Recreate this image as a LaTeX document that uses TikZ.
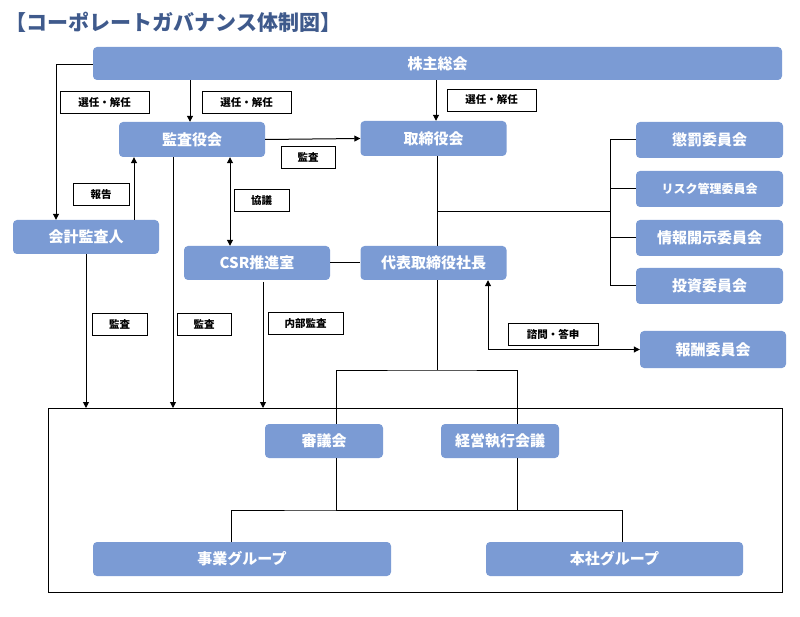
\documentclass[tikz,border=0pt]{standalone}
\usepackage{fontspec}
\setmainfont{Noto Sans CJK JP}
\usetikzlibrary{arrows.meta}
\definecolor{boxc}{HTML}{7B9BD4}
\definecolor{titlec}{HTML}{3F5A8C}
\begin{document}
\begin{tikzpicture}[x=1pt,y=-1pt,
 box/.style={fill=boxc,rounded corners=4pt,text=white,font=\bfseries\fontsize{15}{15}\selectfont,inner sep=0pt,anchor=center},
 lab/.style={draw=black,fill=white,line width=0.8pt,font=\bfseries\fontsize{10.5}{11}\selectfont,inner sep=0pt,minimum height=22pt},
 ln/.style={line width=1pt},
 ar/.style={line width=1pt,-{Triangle[length=6pt,width=6pt]}}]
\useasboundingbox (0,0) rectangle (800,617);
\node[anchor=west,text=titlec,font=\bfseries\fontsize{21}{21}\selectfont] (title) at (2,22) {【コーポレートガバナンス体制図】};
\draw[ln] (48,408) rectangle (782,592);
\node[box,minimum width=689pt,minimum height=33pt] (kabu) at (437.5,63.5) {株主総会};
\node[box,minimum width=146pt,minimum height=35pt] (kansa) at (192,139.5) {監査役会};
\node[box,minimum width=146pt,minimum height=35pt] (tori) at (433.5,138.5) {取締役会};
\node[box,minimum width=146pt,minimum height=34pt] (kaikei) at (86,237) {会計監査人};
\node[box,minimum width=146pt,minimum height=34pt] (csr) at (257,263) {CSR推進室};
\node[box,minimum width=146pt,minimum height=34pt] (dai) at (433.5,263) {代表取締役社長};
\node[box,minimum width=147pt,minimum height=36pt] (c1) at (709.5,140) {懲罰委員会};
\node[box,minimum width=147pt,minimum height=36pt,font=\bfseries\fontsize{12}{12}\selectfont] (c2) at (709.5,189) {リスク管理委員会};
\node[box,minimum width=147pt,minimum height=36pt] (c3) at (709.5,238) {情報開示委員会};
\node[box,minimum width=147pt,minimum height=36pt] (c4) at (709.5,286) {投資委員会};
\node[box,minimum width=146pt,minimum height=37pt] (c5) at (713,349.5) {報酬委員会};
\node[box,minimum width=118pt,minimum height=34pt] (shin) at (324,441) {審議会};
\node[box,minimum width=118pt,minimum height=34pt] (kei) at (500,441) {経営執行会議};
\node[box,minimum width=298pt,minimum height=34pt] (jigyo) at (242,559) {事業グループ};
\node[box,minimum width=257pt,minimum height=34pt] (honsha) at (614.5,559) {本社グループ};
% connectors
\draw[ar] (kabu.west |- 0,65) -| (kaikei.north -| 56,0);
\draw[ar] (kabu.south -| 190,0) -- (kansa.north -| 190,0);
\draw[ar] (kabu.south -| 436,0) -- (tori.north -| 436,0);
\draw[ar] (kansa.east) -- (tori.west);
\draw[ar] (kaikei.north -| 134,0) -- (kansa.south -| 134,0);
\draw[line width=1pt,{Triangle[length=6pt,width=6pt]}-{Triangle[length=6pt,width=6pt]}] (kansa.south -| 230,0) -- (csr.north -| 230,0);
\draw[ln] (csr.east) -- (dai.west);
\draw[ln] (tori.south -| 437,0) -- (dai.north -| 437,0);
\coordinate (hj) at (437,212);
\coordinate (vj) at (610,212);
\draw[ln] (hj) -- (vj);
\draw[ln] (c1.west) -| (c4.west -| vj) -- (c4.west);
\draw[ln] (c2.west) -- (c2.west -| vj);
\draw[ln] (c3.west) -- (c3.west -| vj);
\draw[line width=1pt,{Triangle[length=6pt,width=6pt]}-{Triangle[length=6pt,width=6pt]}] (dai.south -| 488,0) |- (c5.west);
\coordinate (j1) at (437,370);
\draw[ln] (dai.south -| j1) -- (j1);
\draw[ln] (shin.north -| 336,0) |- (j1) -| (kei.north -| 517,0);
\coordinate (j2) at (336,510);
\draw[ln] (shin.south -| j2) -- (j2);
\draw[ln] (kei.south -| 517,0) -- (517,510);
\draw[ln] (jigyo.north -| 231,0) |- (j2) -| (honsha.north -| 622,0);
\draw[ln] (j2) -- (517,510);
\draw[ar] (kaikei.south -| 86,0) -- (86,408);
\draw[ar] (kansa.south -| 173,0) -- (173,408);
\draw[ar] (263,282) -- (263,408);
% labels
\node[lab,minimum width=89pt] (l1) at (104.5,102.5) {選任・解任};
\node[lab,minimum width=89pt] (l2) at (246.5,102.5) {選任・解任};
\node[lab,minimum width=89pt] (l3) at (491.5,100) {選任・解任};
\node[lab,minimum width=54pt] (l4) at (308,157.5) {監査};
\node[lab,minimum width=56pt] (l5) at (101,194.5) {報告};
\node[lab,minimum width=55pt] (l6) at (261.5,200.5) {協議};
\node[lab,minimum width=55pt] (l7) at (119.5,324.5) {監査};
\node[lab,minimum width=54pt] (l8) at (204,324.5) {監査};
\node[lab,minimum width=75pt] (l9) at (305.5,323.5) {内部監査};
\node[lab,minimum width=90pt] (l10) at (553,334) {諮問・答申};
\end{tikzpicture}
\end{document}
